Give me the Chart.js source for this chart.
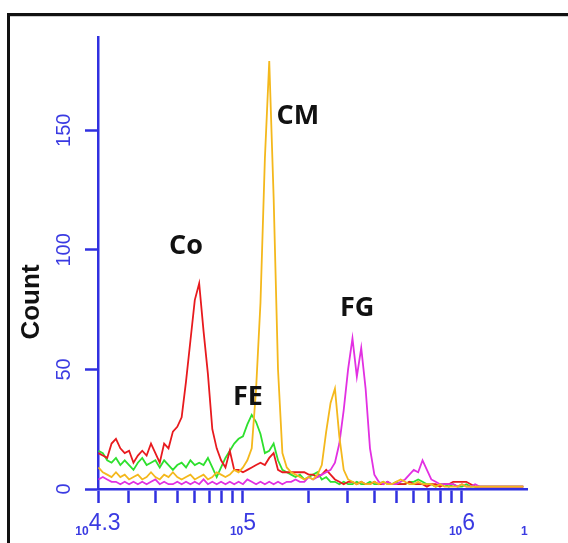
<!DOCTYPE html>
<html>
<head>
<meta charset="utf-8">
<script src="https://cdn.jsdelivr.net/npm/chart.js@4.4.1/dist/chart.umd.min.js"></script>
<style>
  html, body { margin: 0; padding: 0; background: #fff; }
  #wrap { position: relative; width: 568px; height: 543px; overflow: hidden; }
  #frame {
    position: absolute; left: 7px; top: 13px; width: 600px; height: 600px;
    border-left: 3px solid #111; border-top: 3px solid #111;
    box-shadow: inset 0 1px 0 #ccc;
  }
  canvas { position: absolute; left: 0; top: 0; }
</style>
</head>
<body>
<div id="wrap">
  <div id="frame"></div>
  <canvas id="myChart" width="568" height="543"></canvas>
</div>
<script>
// histogram channels: log10 of intensity at bin centres
const binStart = 4.34;
const binWidth = 0.02;

// counts per channel
const coCounts = [
  15,14,13,19,21,17,15,16,11,14, 16,14,19,15,11,19,17,24,26,30,
  45,62,79,86,66,48,25,17,12,9,  16,8,8,7,8,9,10,11,10,13,
  15,8,7,7,7,7,7,7,6,6,          5,6,8,6,4,3,2,3,3,2,
  3,2,2,3,2,2,3,2,2,2,           2,3,2,2,2,1,2,2,1,2,
  2,3,3,3,3,2,1,1,1,1,           1,1,1,1,1,1,1,1
];
const feCounts = [
  16,15,12,11,13,10,12,10,8,11,  13,10,11,12,9,12,10,8,10,11,
  9,12,10,11,10,13,9,5,9,13,     16,19,21,22,27,31,28,23,15,16,
  19,12,8,7,6,5,6,4,5,6,         7,4,5,3,3,2,3,2,2,3,
  2,2,3,2,2,3,2,2,3,2,           2,3,3,4,3,2,2,1,2,2,
  1,2,1,1,2,1,1,1,1,1,           1,1,1,1,1,1,1,1
];
const cmCounts = [
  9,7,6,5,7,5,6,4,5,6,           4,5,7,5,4,6,5,7,5,4,
  5,6,4,5,6,4,5,7,6,5,           6,8,7,9,12,17,42,78,138,179,
  122,50,15,9,7,6,5,4,5,4,       6,10,24,36,42,22,8,4,3,2,
  3,2,2,3,2,3,2,2,3,4,           3,2,2,3,2,2,2,1,2,1,
  1,1,1,2,1,1,1,1,1,1,           1,1,1,1,1,1,1,1
];
const fgCounts = [
  4,5,4,3,3,2,3,2,3,2,           3,2,3,4,2,3,2,2,3,2,
  3,2,3,2,4,2,3,2,3,2,           3,2,3,2,4,3,2,3,2,3,
  2,3,2,3,3,4,3,3,5,4,           5,6,7,8,11,19,33,50,63,47,
  59,42,17,6,3,2,3,2,2,3,        4,6,8,7,12,8,4,3,2,2,
  2,2,1,2,1,1,2,1,1,1,           1,1,1,1,1,1,1,1
];

// axes
const xMinLog = 4.338;
const xMaxLog = 6.297;
const xTickValues = [Math.pow(10, xMinLog), 3e4, 4e4, 5e4, 6e4, 7e4, 8e4, 9e4, 1e5,
  2e5, 3e5, 4e5, 5e5, 6e5, 7e5, 8e5, 9e5, 1e6, Math.pow(10, xMaxLog)];
// [small base, exponent] per tick, '' where no label
const xTickBase = ['10', '', '', '', '', '', '', '', '10', '', '', '', '', '', '', '', '', '10', '1'];
const xTickExp = ['4.3', '', '', '', '', '', '', '', '5', '', '', '', '', '', '', '', '', '6', ''];
const yTickValues = [0, 50, 100, 150];
const yTitle = 'Count';

// peak labels: [text, log10 intensity, count]
const peakLabels = [
  ['Co', 4.740, 101.5],
  ['CM', 5.251, 156],
  ['FE', 5.023, 38.5],
  ['FG', 5.521, 75.5]
];

const axisBlue = '#3030e0';
const labelBlue = '#3a3ae2';

function toPoints(counts) {
  return counts.map((c, i) => ({ x: Math.pow(10, binStart + binWidth * i), y: c }));
}

const overlayPlugin = {
  id: 'overlay',
  afterDraw(chart) {
    const ctx = chart.ctx;
    const xs = chart.scales.x, ys = chart.scales.y;
    ctx.save();
    // rotated y tick labels
    ctx.fillStyle = labelBlue;
    ctx.font = '20px "Liberation Sans", Arial, sans-serif';
    ctx.textAlign = 'center';
    ctx.textBaseline = 'middle';
    yTickValues.forEach(v => {
      ctx.save();
      ctx.translate(64, ys.getPixelForValue(v));
      ctx.rotate(-Math.PI / 2);
      ctx.fillText(String(v), 0, 0);
      ctx.restore();
    });
    // x tick labels: small base then larger exponent
    ctx.textBaseline = 'alphabetic';
    ctx.textAlign = 'left';
    const baseFont = 'bold 12px "Liberation Sans", Arial, sans-serif';
    const expFont = '23px "Liberation Sans", Arial, sans-serif';
    xTickValues.forEach((v, i) => {
      const b = xTickBase[i], e = xTickExp[i];
      if (!b && !e) return;
      ctx.font = baseFont;
      const wb = ctx.measureText(b).width;
      ctx.font = expFont;
      const we = ctx.measureText(e).width;
      let x0 = xs.getPixelForValue(v) - (wb + we) / 2;
      if (!e) x0 = xs.getPixelForValue(v) - 6;
      ctx.font = baseFont;
      ctx.fillText(b, x0, 535);
      ctx.font = expFont;
      ctx.fillText(e, x0 + wb, 530);
    });
    // axis title
    ctx.textAlign = 'center';
    ctx.textBaseline = 'middle';
    ctx.fillStyle = '#111';
    ctx.font = 'bold 26px "Liberation Sans", Arial, sans-serif';
    ctx.save();
    ctx.translate(32, 302);
    ctx.rotate(-Math.PI / 2);
    ctx.fillText(yTitle, 0, 0);
    ctx.restore();
    // peak labels
    ctx.font = 'bold 27px "Open Sans", sans-serif';
    peakLabels.forEach(([t, lx, c]) => {
      ctx.fillText(t, xs.getPixelForValue(Math.pow(10, lx)), ys.getPixelForValue(c));
    });
    ctx.restore();
  }
};

function series(label, counts, color, order) {
  return {
    label: label,
    data: toPoints(counts),
    borderColor: color,
    borderWidth: 1.8,
    pointRadius: 0,
    tension: 0,
    fill: false,
    order: order
  };
}

new Chart(document.getElementById('myChart').getContext('2d'), {
  type: 'line',
  data: {
    datasets: [
      series('CM', cmCounts, '#f4b81c', 0),
      series('FG', fgCounts, '#e230e2', 1),
      series('FE', feCounts, '#2ee02e', 3),
      series('Co', coCounts, '#e81a1e', 2)
    ]
  },
  options: {
    responsive: false,
    animation: false,
    events: [],
    layout: { padding: { top: 37, right: 41, left: 0, bottom: 0 } },
    plugins: { legend: { display: false }, tooltip: { enabled: false } },
    scales: {
      x: {
        type: 'logarithmic',
        min: Math.pow(10, xMinLog),
        max: Math.pow(10, xMaxLog),
        afterBuildTicks: (scale) => { scale.ticks = xTickValues.map(v => ({ value: v })); },
        afterFit: (scale) => { scale.height = 54; },
        border: { color: axisBlue, width: 2.5 },
        grid: {
          drawOnChartArea: false,
          drawTicks: true,
          tickLength: 14,
          tickWidth: 2.5,
          tickColor: (c) => c.index === xTickValues.length - 1 ? 'rgba(0,0,0,0)' : axisBlue
        },
        ticks: { display: false }
      },
      y: {
        min: 0,
        max: 189,
        afterBuildTicks: (scale) => { scale.ticks = yTickValues.map(v => ({ value: v })); },
        afterFit: (scale) => { scale.width = 98; },
        border: { color: axisBlue, width: 2.5 },
        grid: { drawOnChartArea: false, drawTicks: true, tickLength: 13, tickWidth: 2.5, tickColor: axisBlue },
        ticks: { display: false }
      }
    }
  },
  plugins: [overlayPlugin]
});
</script>
</body>
</html>
